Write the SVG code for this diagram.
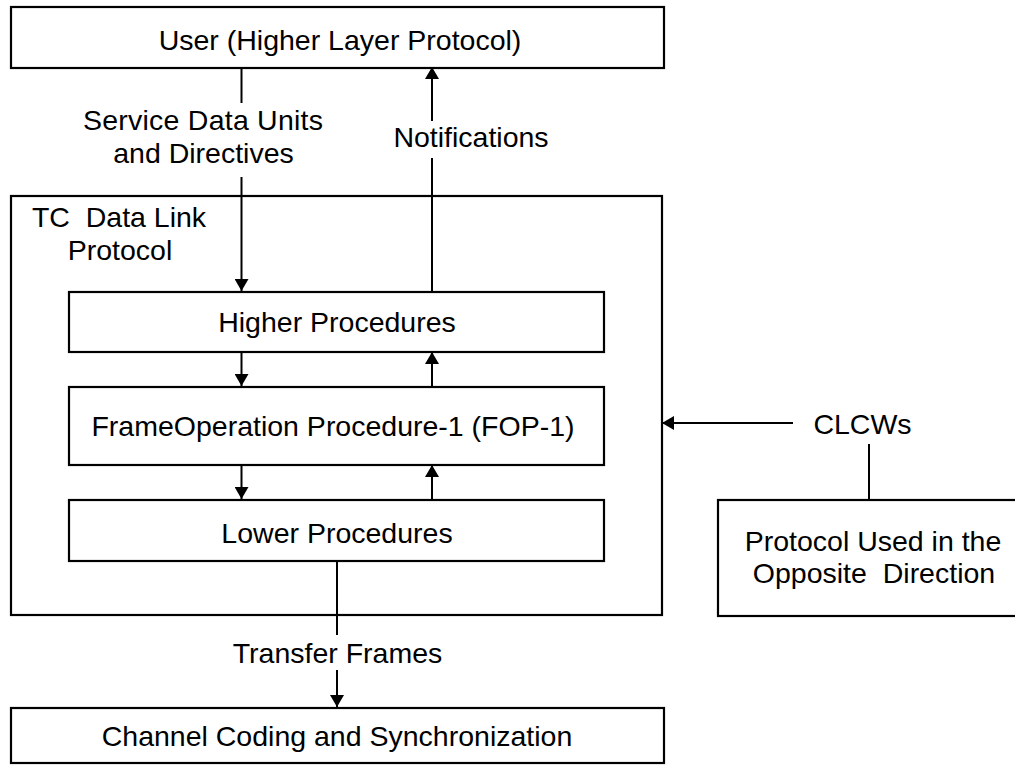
<svg xmlns="http://www.w3.org/2000/svg" width="1015" height="768" viewBox="0 0 1015 768">
<defs>
<marker id="ah" markerUnits="userSpaceOnUse" markerWidth="14" markerHeight="14" viewBox="0 0 12 14" refX="12" refY="7" orient="auto">
<path d="M0,0 L12,7 L0,14 Z" fill="#000"/>
</marker>
</defs>
<style>
.box{fill:#fff;stroke:#000;stroke-width:2.2}
.t{font-family:"Liberation Sans",Arial,sans-serif;font-size:28.5px;fill:#000;text-anchor:middle}
.c{fill:none;stroke:#000;stroke-width:2}
</style>
<rect width="1015" height="768" fill="#fff"/>
<g id="user">
<rect class="box" x="11" y="7" width="653" height="61"/>
<text class="t" x="340" y="50">User (Higher Layer Protocol)</text>
</g>
<g id="tcdl">
<rect class="box" x="11" y="196" width="651" height="419"/>
<text class="t" x="119" y="227" xml:space="preserve">TC  Data Link</text>
<text class="t" x="120" y="260">Protocol</text>
</g>
<g id="higher">
<rect class="box" x="69" y="292" width="535" height="60"/>
<text class="t" x="337" y="332">Higher Procedures</text>
</g>
<g id="fop">
<rect class="box" x="69" y="387" width="535" height="78"/>
<text class="t" x="333" y="436">FrameOperation Procedure-1 (FOP-1)</text>
</g>
<g id="lower">
<rect class="box" x="69" y="500" width="535" height="61"/>
<text class="t" x="337" y="543">Lower Procedures</text>
</g>
<g id="opposite">
<rect class="box" x="718" y="500" width="320" height="116"/>
<text class="t" x="873" y="551">Protocol Used in the</text>
<text class="t" x="874" y="583" xml:space="preserve">Opposite  Direction</text>
</g>
<g id="channel">
<rect class="box" x="11" y="708" width="653" height="55"/>
<text class="t" x="337" y="746">Channel Coding and Synchronization</text>
</g>
<g id="connectors">
<line class="c" x1="241.5" y1="68" x2="241.5" y2="103"/>
<line class="c" x1="241.5" y1="177" x2="241.5" y2="291" marker-end="url(#ah)"/>
<line class="c" x1="432" y1="292" x2="432" y2="158"/>
<line class="c" x1="432" y1="121" x2="432" y2="67" marker-end="url(#ah)"/>
<line class="c" x1="241.5" y1="352" x2="241.5" y2="386" marker-end="url(#ah)"/>
<line class="c" x1="432" y1="387" x2="432" y2="352" marker-end="url(#ah)"/>
<line class="c" x1="241.5" y1="465" x2="241.5" y2="499" marker-end="url(#ah)"/>
<line class="c" x1="432" y1="500" x2="432" y2="465" marker-end="url(#ah)"/>
<line class="c" x1="337" y1="561" x2="337" y2="635"/>
<line class="c" x1="337" y1="670" x2="337" y2="707" marker-end="url(#ah)"/>
<line class="c" x1="793" y1="423" x2="662" y2="423" marker-end="url(#ah)"/>
<line class="c" x1="869" y1="444" x2="869" y2="500"/>
<text class="t" x="203" y="130" textLength="240" lengthAdjust="spacing">Service Data Units</text>
<text class="t" x="203.5" y="163">and Directives</text>
<text class="t" x="471" y="147">Notifications</text>
<text class="t" x="337.5" y="663">Transfer Frames</text>
<text class="t" x="862.5" y="434">CLCWs</text>
</g>
</svg>
